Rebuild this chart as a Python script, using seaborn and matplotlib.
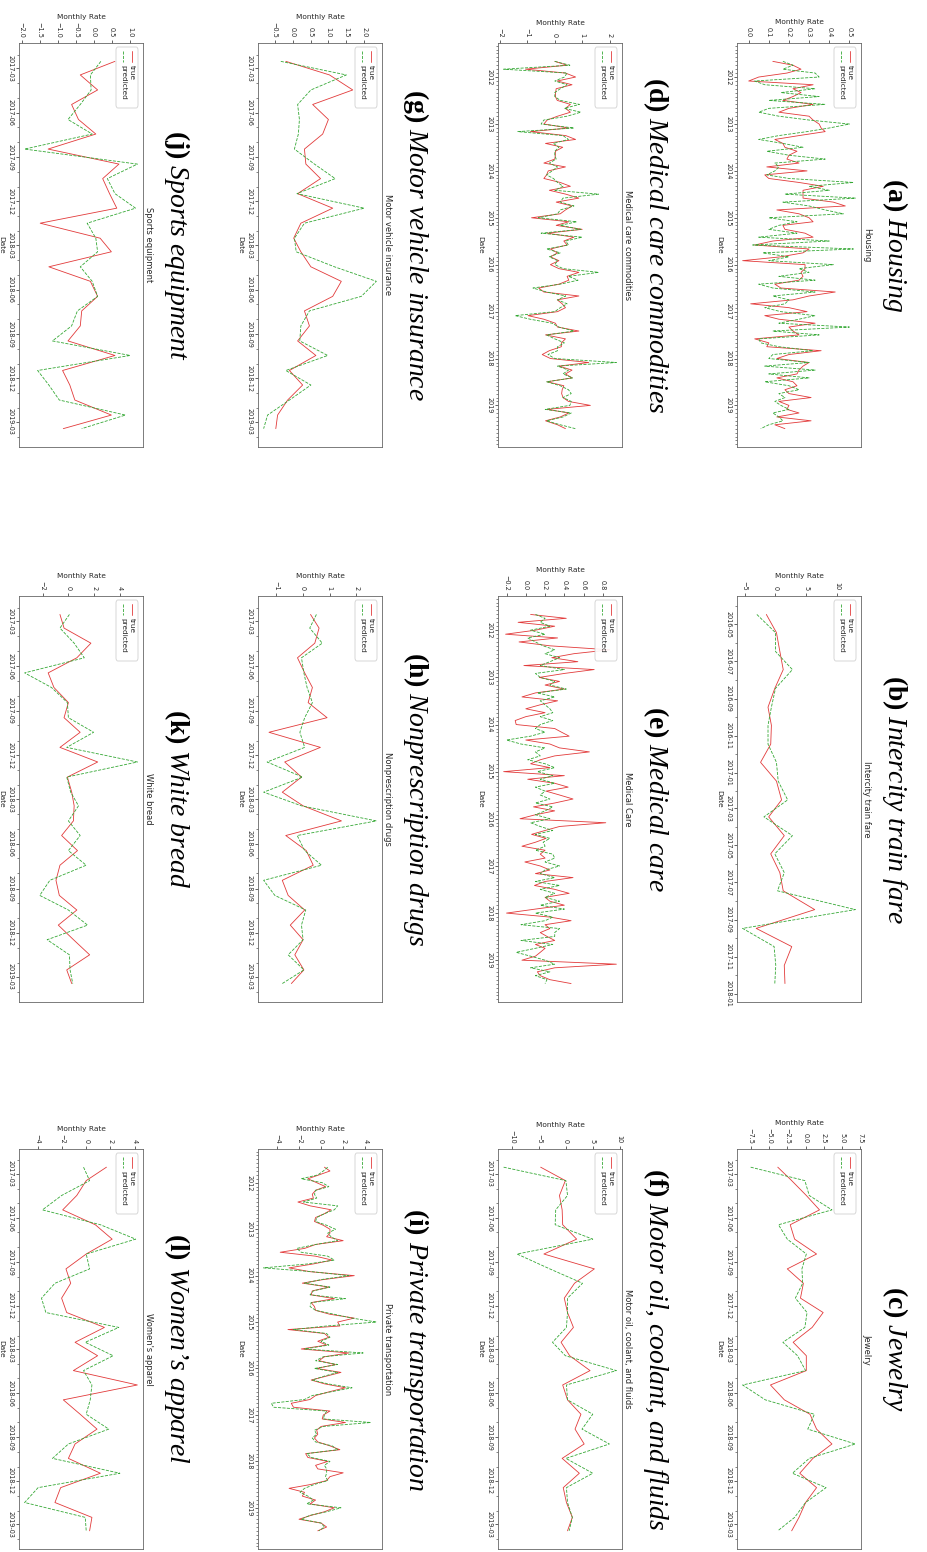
import matplotlib
matplotlib.use("Agg")
import pandas as pd
import matplotlib.pyplot as plt
import matplotlib.dates as mdates
import matplotlib.ticker as mticker
from matplotlib.lines import Line2D
from matplotlib.patches import FancyBboxPatch
import seaborn as sns

# ---- dates ----
long_dates = pd.date_range("2011-09-01", periods=95, freq="MS")
train_dates = pd.date_range("2016-04-01", periods=21, freq="MS") + pd.Timedelta(days=14)
short_dates = pd.date_range("2017-02-01", periods=26, freq="MS") + pd.Timedelta(days=14)

# ---- (a) Housing ----
housing_true = [0.12, 0.22, 0.26, 0.19, 0.05, 0.00, 0.32, 0.22, 0.26, 0.22, 0.17, 0.32, 0.20, 0.15, 0.30, 0.32,
                0.35, 0.36, 0.38, 0.25, 0.13, 0.17, 0.18, 0.24, 0.20, 0.19, 0.25, 0.09, 0.29, 0.08, 0.10, 0.25,
                0.37, 0.27, 0.27, 0.27, 0.42, 0.48, 0.14, 0.25, 0.30, 0.32, 0.17, 0.18, 0.28, 0.32, 0.12, 0.03,
                0.30, 0.27, 0.16, -0.03, 0.28, 0.28, 0.26, 0.27, 0.25, 0.13, 0.16, 0.43, 0.30, 0.22, 0.01, 0.20,
                0.29, 0.08, 0.15, 0.33, 0.20, 0.22, 0.25, 0.03, 0.10, 0.09, 0.36, 0.20, 0.14, 0.30, 0.27, 0.25,
                0.24, 0.14, 0.22, 0.24, 0.18, 0.20, 0.31, 0.15, 0.20, 0.19, 0.25, 0.14, 0.31, 0.13, 0.18]
housing_pred = [0.17, 0.22, 0.17, 0.33, 0.35, 0.03, 0.08, 0.33, 0.16, 0.35, 0.10, 0.38, 0.10, 0.05, 0.15, 0.30,
                0.50, 0.40, 0.29, 0.15, 0.05, 0.17, 0.27, 0.09, 0.20, 0.38, 0.13, 0.15, 0.13, 0.09, 0.20, 0.52,
                0.30, 0.40, 0.18, 0.53, 0.17, 0.30, 0.38, 0.47, 0.10, 0.24, 0.15, 0.10, 0.24, 0.05, 0.40, 0.02,
                0.52, 0.07, 0.20, 0.10, 0.42, 0.25, 0.30, 0.15, 0.33, 0.05, 0.12, 0.33, 0.12, 0.20, 0.18, 0.08,
                0.16, 0.33, 0.25, 0.15, 0.50, 0.12, 0.35, 0.05, 0.06, 0.15, 0.32, 0.12, 0.10, 0.30, 0.08, 0.33,
                0.10, 0.30, 0.08, 0.20, 0.25, 0.15, 0.18, 0.13, 0.16, 0.20, 0.12, 0.15, 0.17, 0.10, 0.06]

# ---- (b) Intercity train fare ----
train_true = [-1.48, 0.16, 0.71, 1.26, -0.11, -1.21, -0.66, -0.77, -2.42, 0.16, 0.99, -1.10, 1.43, -0.77,
              0.71, 1.26, 6.37, -3.13, 2.64, 1.43, 1.54]
train_pred = [-3.02, 0.00, 0.00, 2.75, 0.00, -0.66, -1.21, -1.21, 0.16, 0.44, 1.98, -1.87, 2.75, -0.11,
              1.43, 0.33, 12.97, -5.33, -0.22, 0.05, -0.11]

# ---- (c) Jewelry ----
jewelry_true = [-3.8, -1.9, 0.1, 1.9, -2.1, -1.5, 1.5, -2.5, -0.3, -0.7, 2.4, 0.9, -1.7, 0.1, 0.1, -4.8,
                -2.9, 0.6, 1.5, 3.6, 1.0, -0.8, 1.5, 0.0, -0.9, -1.9]
jewelry_pred = [-7.5, -0.1, 0.5, 3.6, -3.7, -2.5, 0.1, -0.5, -0.4, -1.4, 0.2, -0.1, -3.1, -1.1, 0.0, -8.6,
                -5.5, 1.2, 0.3, 6.8, 0.5, -1.8, 2.8, 0.0, -1.5, -3.8]

# ---- (d) Medical care commodities ----
medcom_true = [0.00, 0.45, -1.07, 0.39, 0.76, 0.09, 0.63, 0.05, 0.03, 0.02, 0.09, 0.57, 0.39, 0.57, 0.10, -0.28,
               -0.40, 0.51, -0.89, 0.40, 0.76, -0.34, 0.29, 0.02, 0.02, 0.00, -0.40, 0.39, -0.24, -0.30, -0.40, 0.20,
               0.57, -0.20, 0.40, 0.88, 0.05, 0.63, 0.39, 0.20, -0.85, 0.51, 0.05, 1.00, -0.28, 0.70, 0.33, 0.45,
               -0.16, 0.10, -0.16, 0.15, -0.16, 0.15, 0.88, 0.45, 0.51, 0.15, -0.59, -0.40, 0.88, 0.09, 0.27, 0.39,
               0.10, -0.98, -0.40, 0.02, 0.10, 0.88, -0.34, 0.39, 0.24, 0.24, -0.20, -0.46, -0.16, 1.24, 0.15, 0.63,
               0.39, 0.63, -0.28, 0.33, 0.27, 0.25, 0.30, 0.50, 1.30, -0.28, 0.51, 0.20, -0.34, 0.10, 0.39]
medcom_pred = [0.00, 0.55, -1.87, 0.45, 0.35, 0.00, 0.45, 0.20, 0.00, 0.00, 0.20, 0.90, 0.35, 0.95, 0.45, -0.40,
               -0.50, 0.70, -1.35, 0.30, 0.50, -0.05, 0.15, 0.00, 0.00, 0.05, -0.20, 0.10, -0.10, -0.30, -0.05, 0.10,
               0.30, 0.00, 1.60, 0.30, 0.20, 0.70, 0.20, 0.10, -0.60, 0.80, 0.20, 0.95, -0.50, 1.00, 0.40, 0.50,
               -0.30, 0.20, -0.20, 0.10, 0.00, 0.30, 1.60, 0.50, 0.85, 0.20, -0.80, -0.30, 0.40, 0.10, 0.45, 0.20,
               0.00, -1.45, -0.90, -0.10, 0.15, 0.70, -0.30, 0.00, 0.35, 0.10, 0.10, -0.25, 0.00, 2.25, 0.10, 0.50,
               0.30, 0.65, -0.30, 0.20, 0.50, 0.60, 0.30, 0.60, 0.55, -0.35, 0.60, 0.30, -0.30, 0.20, 0.75]

# ---- (e) Medical Care ----
medcare_true = [0.05, 0.42, -0.08, 0.30, 0.10, -0.21, 0.33, -0.07, 0.25, 0.87, 0.50, 0.27, 0.54, -0.02, 0.71, 0.40,
                0.14, 0.35, 0.20, 0.40, 0.10, -0.04, 0.33, 0.15, 0.00, 0.20, 0.00, -0.11, -0.10, 0.30, 0.37, 0.45,
                0.00, 0.25, 0.35, 0.66, 0.30, 0.15, 0.05, 0.25, -0.23, 0.40, 0.02, 0.30, 0.44, 0.21, 0.35, 0.49,
                0.30, 0.08, 0.30, 0.10, -0.06, 0.83, 0.35, 0.20, 0.06, 0.21, 0.10, -0.04, 0.20, 0.15, 0.20, -0.01,
                0.15, 0.25, 0.10, 0.49, 0.20, 0.09, 0.30, 0.45, 0.20, 0.25, 0.40, 0.10, -0.20, 0.25, 0.47, 0.20,
                0.25, 0.15, 0.22, 0.30, 0.10, 0.20, 0.15, 0.10, -0.04, 0.94, 0.30, 0.12, 0.15, 0.25, 0.47]
medcare_pred = [0.10, 0.20, 0.15, 0.25, 0.05, 0.20, 0.02, 0.10, 0.18, 0.30, 0.20, 0.35, 0.25, 0.15, 0.40, 0.10,
                0.15, 0.30, 0.25, 0.42, 0.12, 0.30, 0.15, 0.20, 0.25, 0.28, 0.15, 0.28, 0.15, 0.10, 0.20, 0.05,
                -0.20, -0.05, 0.20, 0.10, 0.15, 0.02, 0.20, 0.30, 0.12, 0.28, 0.15, 0.30, 0.10, 0.20, 0.15, 0.25,
                0.10, 0.28, 0.20, 0.10, 0.25, 0.05, 0.15, 0.28, 0.10, 0.25, 0.18, 0.20, 0.10, 0.28, 0.30, 0.20,
                0.35, 0.20, 0.15, 0.30, 0.10, 0.35, 0.15, 0.30, 0.20, 0.35, 0.15, 0.40, 0.10, 0.28, 0.20, -0.05,
                0.35, 0.30, 0.30, -0.05, 0.28, 0.10, -0.10, 0.05, 0.20, 0.30, 0.05, 0.25, 0.10, 0.22, 0.20]

# ---- (f) Motor oil, coolant, and fluids ----
motoroil_true = [-4.7, -0.1, -1.2, -0.7, -0.6, 2.0, -4.1, 5.3, 1.6, -0.3, 0.3, 1.4, -0.9, 0.7, 4.5, -0.6,
                 0.3, 2.8, 1.7, 3.4, -0.7, 2.5, -0.5, 0.1, 1.2, 0.3]
motoroil_pred = [-11.6, 0.0, 0.3, -1.9, -2.0, 5.0, -9.1, -3.0, 3.1, 0.3, 0.3, 0.1, -2.5, -0.1, 9.4, 0.1,
                 0.3, 5.0, 3.0, 8.1, 0.0, 5.0, 0.1, 0.3, 1.2, 0.6]

# ---- (g) Motor vehicle insurance ----
mvins_true = [-0.19, 1.03, 1.68, 0.56, 1.00, 0.84, 0.33, 0.37, 0.78, 0.14, 1.12, 0.23, 0.03, 0.23, 0.51, 1.36,
              1.12, 0.33, 0.47, 0.14, 0.65, -0.09, 0.28, -0.14, -0.42, -0.47]
mvins_pred = [-0.33, 1.50, 0.51, 0.14, 0.19, 0.16, 0.05, 0.61, 1.19, 0.12, 2.00, 0.33, 0.05, 0.10, 1.17, 2.34,
              1.92, 0.47, 0.23, 0.20, 0.98, -0.19, 0.51, -0.09, -0.70, -0.81]

# ---- (h) Nonprescription drugs ----
nonrx_true = [0.28, 0.60, 0.44, -0.21, 0.06, 0.35, 0.19, 0.90, -1.28, 0.65, -0.69, -0.06, -0.78, 0.00, 1.44, -0.65,
              0.12, 0.38, -0.78, -0.56, 0.06, -0.48, 0.00, -0.31, 0.03, -0.44]
nonrx_pred = [0.50, 0.25, 0.72, -0.06, 0.03, 0.15, 0.35, 0.06, -0.12, 0.06, -1.35, -0.02, -1.48, -0.06, 2.75, -0.22,
              0.06, 0.69, -1.48, -1.06, 0.10, -0.06, 0.00, -0.56, 0.03, -0.78]

# ---- (i) Private transportation ----
privtr_true = [0.3, 0.8, -0.2, -1.2, -0.4, 0.4, -0.5, -0.8, -0.7, -2.1, -1.0, 0.9, 0.3, -0.5, -0.6, 0.2,
               0.8, 0.8, 0.5, 2.0, -0.5, -1.5, -3.7, -0.5, 1.0, -0.7, -2.9, -1.0, 3.0, 0.2, -1.7, 0.7,
               -0.8, -0.9, 1.2, -0.9, -0.6, -0.5, 0.8, 3.0, 1.5, 1.7, -3.0, 0.3, 0.7, -0.3, 0.5, -1.8,
               2.5, 0.3, -0.2, 1.3, -0.4, 1.8, 0.5, -0.9, 0.3, 2.2, 0.8, -0.5, -1.0, -2.7, -2.5, 0.8,
               0.2, 0.1, 2.2, 0.0, -0.4, -0.3, -0.6, -0.3, 0.8, 1.7, -1.4, -1.2, 0.6, -0.5, -0.3, 2.0,
               0.8, 0.5, -0.9, -2.9, -1.5, -1.7, -0.5, -1.0, 1.2, 0.3, -0.9, -2.0, 0.0, 0.5, -0.3]
privtr_pred = [0.6, 0.2, -0.3, -1.8, 0.1, 0.7, -0.5, -0.6, -0.4, -1.6, 1.5, 1.2, 0.3, -0.4, -0.5, 0.5,
               1.3, 0.6, 0.9, 1.5, -0.5, -2.2, -1.8, 0.6, 1.2, -1.2, -5.2, -0.8, 2.5, 0.0, -1.5, 0.8,
               -0.7, -1.0, 2.2, -0.9, -1.0, -0.5, 1.2, 2.8, 5.0, 0.5, -2.5, 0.5, 0.8, 0.0, 0.7, -1.5,
               3.8, 0.2, -0.5, 1.5, -0.6, 1.5, 0.3, -0.8, 0.6, 2.8, 1.0, -0.8, -1.5, -4.5, -4.3, 0.5,
               0.3, 0.2, 4.5, 0.2, -0.6, -0.4, -0.8, -0.5, 1.0, 1.5, -1.3, -0.9, 0.8, 0.3, 0.5, 0.5,
               0.4, 0.6, -0.6, -1.5, -1.9, -1.2, -0.7, -1.3, 1.8, 0.5, -1.0, -1.8, 0.0, 0.3, -0.2]

# ---- (j) Sports equipment ----
sports_true = [0.58, -0.38, 0.10, -0.62, -0.43, 0.05, -1.27, 0.69, 0.24, 0.43, 0.63, -1.49, 0.17, 0.48, -1.25, -0.10,
               0.10, -0.34, -0.38, -0.72, 0.58, -0.87, -0.67, -0.53, 0.48, -0.85]
sports_pred = [0.19, -0.10, -0.08, -0.38, -0.72, -0.05, -1.92, 1.20, 0.37, 0.58, 1.15, -0.19, 0.05, 0.10, -0.38, -0.05,
               0.10, -0.46, -0.62, -1.15, 1.00, -1.56, -1.25, -0.96, 0.87, -0.34]

# ---- (k) White bread ----
bread_true = [-0.66, -0.34, 1.76, 0.66, -1.58, -1.13, 0.00, -0.34, 0.92, -0.66, 2.29, -0.08, 0.26, 0.45, 0.39, -0.53,
              0.71, -0.66, -0.97, -0.71, 0.66, -0.79, 0.40, 1.66, -0.13, 0.26]
bread_pred = [0.08, -0.66, 0.45, 1.24, -3.42, -1.32, -0.08, 0.00, 1.97, -0.13, 5.39, -0.13, 0.18, 0.79, 0.00, 0.92,
              0.00, 1.39, -1.45, -2.24, 0.00, 1.50, -1.66, 0.08, 0.13, 0.34]

# ---- (l) Women's apparel ----
women_true = [1.67, 0.00, -0.78, -1.94, 0.75, 2.14, 0.00, -1.67, -1.28, -2.03, -1.61, 1.50, -0.92, 0.94, -1.06, 4.22,
              -1.89, -0.50, 0.89, -0.92, -1.47, 1.17, -2.11, -2.58, 0.47, 0.28]
women_pred = [-0.22, 0.28, -2.03, -3.61, 1.17, 4.08, 0.00, 0.28, -2.58, -3.69, -3.33, 2.69, -0.08, 2.22, -0.22, 0.47,
              0.33, 0.00, 1.86, -1.47, -2.78, 2.78, -3.97, -5.08, -0.08, 0.00]

panels = [
    ("(a)", "Housing", "Housing", long_dates, housing_true, housing_pred, 0.1, "year"),
    ("(b)", "Intercity train fare", "Intercity train fare", train_dates, train_true, train_pred, 5, "odd"),
    ("(c)", "Jewelry", "Jewelry", short_dates, jewelry_true, jewelry_pred, 2.5, "quarter"),
    ("(d)", "Medical care commodities", "Medical care commodities", long_dates, medcom_true, medcom_pred, 1, "year"),
    ("(e)", "Medical care", "Medical Care", long_dates, medcare_true, medcare_pred, 0.2, "year"),
    ("(f)", "Motor oil, coolant, and fluids", "Motor oil, coolant, and fluids", short_dates,
     motoroil_true, motoroil_pred, 5, "quarter"),
    ("(g)", "Motor vehicle insurance", "Motor vehicle insurance", short_dates, mvins_true, mvins_pred, 0.5, "quarter"),
    ("(h)", "Nonprescription drugs", "Nonprescription drugs", short_dates, nonrx_true, nonrx_pred, 1, "quarter"),
    ("(i)", "Private transportation", "Private transportation", long_dates, privtr_true, privtr_pred, 2, "year"),
    ("(j)", "Sports equipment", "Sports equipment", short_dates, sports_true, sports_pred, 0.5, "quarter"),
    ("(k)", "White bread", "White bread", short_dates, bread_true, bread_pred, 2, "quarter"),
    ("(l)", "Women\u2019s apparel", "Women's apparel", short_dates, women_true, women_pred, 2, "quarter"),
]

sns.set_style("white")
plt.rcParams["font.family"] = ["DejaVu Sans"]
plt.rcParams["mathtext.fontset"] = "custom"
plt.rcParams["mathtext.rm"] = "Liberation Serif"
plt.rcParams["mathtext.bf"] = "Liberation Serif:bold"
plt.rcParams["mathtext.it"] = "Liberation Serif:italic"

W, H = 928, 1552
fig = plt.figure(figsize=(W / 100, H / 100), dpi=100)

# the sheet is the 4x3 grid turned a quarter turn clockwise
col_x = [737, 498, 258, 19]
row_y = [(43, 447), (596, 1002), (1149, 1549)]
AX_W = 124
RED, GREEN = "#e23a3a", "#35a835"
INK = "0.15"


def fx(p):
    return p / W


def fy(p):
    return 1 - p / H


for n, (tag, big, small, dates, tru, pred, step, tick_kind) in enumerate(panels):
    x0 = col_x[n // 3]
    y0, y1 = row_y[n % 3]
    ax = fig.add_axes([fx(x0), fy(y1), AX_W / W, (y1 - y0) / H])

    sns.lineplot(x=tru, y=dates, sort=False, estimator=None, color=RED, linewidth=0.6, ax=ax)
    sns.lineplot(x=pred, y=dates, sort=False, estimator=None, color=GREEN, linewidth=0.6,
                 linestyle="--", ax=ax)
    ax.invert_yaxis()

    ax.xaxis.set_major_locator(mticker.MultipleLocator(step))
    if tick_kind == "year":
        ax.yaxis.set_major_locator(mdates.YearLocator())
        ax.yaxis.set_major_formatter(mdates.DateFormatter("%Y"))
    elif tick_kind == "odd":
        ax.yaxis.set_major_locator(mdates.MonthLocator(bymonth=[1, 3, 5, 7, 9, 11]))
        ax.yaxis.set_major_formatter(mdates.DateFormatter("%Y-%m"))
    else:
        ax.yaxis.set_major_locator(mdates.MonthLocator(bymonth=[3, 6, 9, 12]))
        ax.yaxis.set_major_formatter(mdates.DateFormatter("%Y-%m"))
    ax.yaxis.set_minor_locator(mdates.MonthLocator())

    ax.xaxis.tick_top()
    ax.xaxis.set_label_position("top")
    ax.set_xlabel("Monthly Rate", fontsize=5.3, color=INK, labelpad=2)
    ax.set_ylabel("Date", fontsize=5.3, color=INK, rotation=-90, va="top", labelpad=2)
    ax.tick_params(axis="both", which="major", length=2.5, width=0.5, pad=1.5,
                   labelsize=4.7, colors=INK, labelrotation=-90)
    ax.tick_params(axis="y", which="minor", length=1.3, width=0.4, colors=INK, left=True)
    ax.tick_params(axis="y", left=True)
    ax.tick_params(axis="x", top=True)
    plt.setp(ax.get_yticklabels(), va="center")
    for sp in ax.spines.values():
        sp.set_color("0.4")
        sp.set_linewidth(0.6)

    # axes title, on the right side of the turned panel
    ax.text(1 + 3 / AX_W, 0.5, small, transform=ax.transAxes, rotation=-90,
            rotation_mode="anchor", ha="center", va="baseline", fontsize=6, color=INK)

    # panel caption
    fig.text(fx(x0 + AX_W + 27), fy((y0 + y1) / 2), r"$\mathbf{" + tag + "}$ " + big,
             rotation=-90, rotation_mode="anchor", ha="center", va="baseline",
             fontsize=20, family="Liberation Serif", style="italic", color="black")

    # legend (turned with the panel)
    xr, yt = x0 + AX_W, y0
    fig.patches.append(FancyBboxPatch((fx(xr - 27), fy(yt + 65)), 22 / W, 61 / H,
                                      boxstyle="round,pad=0,rounding_size=0.002",
                                      transform=fig.transFigure, facecolor="white",
                                      edgecolor="0.8", linewidth=0.6, alpha=0.9, zorder=5))
    for dx, lab, col, ls in [(11, "true", RED, "-"), (20, "predicted", GREEN, "--")]:
        fig.add_artist(Line2D([fx(xr - dx), fx(xr - dx)], [fy(yt + 8), fy(yt + 19)],
                              transform=fig.transFigure, color=col, linewidth=0.6,
                              linestyle=ls, zorder=6))
        fig.text(fx(xr - dx), fy(yt + 22), lab, rotation=-90, rotation_mode="anchor",
                 ha="left", va="center", fontsize=5.3, color=INK, zorder=6)

fig.savefig("out.png", dpi=100)
